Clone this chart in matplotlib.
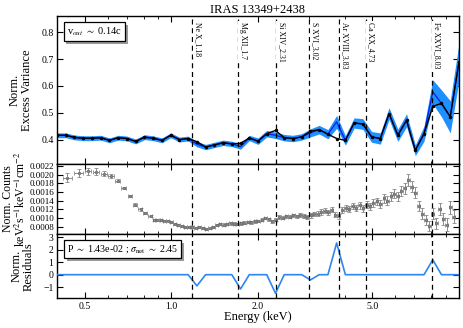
import numpy as np
import matplotlib
matplotlib.use('Agg')
import matplotlib.pyplot as plt
import matplotlib.transforms as mtransforms
from matplotlib.patches import Rectangle
from matplotlib.ticker import FixedLocator, FormatStrFormatter, NullFormatter, LogLocator

plt.rcParams['font.family'] = ['Liberation Serif', 'DejaVu Serif']
plt.rcParams['mathtext.fontset'] = 'stix'

title = "IRAS 13349+2438"

# ---- excess variance spectrum ----
ev_energy = [0.400, 0.429, 0.460, 0.493, 0.529, 0.568, 0.609, 0.653, 0.700, 0.751,
             0.806, 0.864, 0.927, 0.994, 1.066, 1.143, 1.226, 1.315, 1.410, 1.512,
             1.622, 1.739, 1.865, 2.000, 2.145, 2.301, 2.467, 2.646, 2.838, 3.044,
             3.264, 3.501, 3.754, 4.026, 4.318, 4.631, 4.967, 5.326, 5.713, 6.127,
             6.571, 7.047, 7.557, 8.105, 8.692, 9.322, 10.0]
ev_data = [0.416, 0.416, 0.408, 0.405, 0.405, 0.407, 0.397, 0.407, 0.404, 0.393,
           0.409, 0.405, 0.397, 0.416, 0.400, 0.404, 0.383, 0.372, 0.380, 0.388,
           0.384, 0.374, 0.406, 0.394, 0.422, 0.416, 0.407, 0.404, 0.410, 0.425,
           0.437, 0.420, 0.466, 0.397, 0.462, 0.458, 0.410, 0.404, 0.497, 0.416,
           0.472, 0.360, 0.422, 0.578, 0.535, 0.485, 0.690]
ev_err = [0.009, 0.009, 0.009, 0.009, 0.009, 0.009, 0.009, 0.009, 0.009, 0.009,
          0.009, 0.009, 0.009, 0.009, 0.009, 0.009, 0.010, 0.010, 0.010, 0.010,
          0.010, 0.010, 0.010, 0.012, 0.012, 0.012, 0.012, 0.012, 0.012, 0.015,
          0.016, 0.017, 0.024, 0.018, 0.019, 0.020, 0.020, 0.021, 0.022, 0.023,
          0.024, 0.020, 0.028, 0.045, 0.050, 0.060, 0.070]
ev_model = [0.416, 0.416, 0.408, 0.405, 0.405, 0.407, 0.397, 0.407, 0.404, 0.393,
            0.409, 0.405, 0.397, 0.416, 0.400, 0.404, 0.392, 0.372, 0.380, 0.388,
            0.384, 0.386, 0.406, 0.394, 0.422, 0.434, 0.407, 0.404, 0.410, 0.431,
            0.437, 0.420, 0.404, 0.397, 0.462, 0.458, 0.410, 0.404, 0.497, 0.416,
            0.472, 0.360, 0.422, 0.524, 0.535, 0.485, 0.690]
residuals = [0, 0, 0, 0, 0, 0, 0, 0, 0, 0,
             0, 0, 0, 0, 0, 0, -0.9, 0, 0, 0,
             0, -1.15, 0, 0, 0, -1.5, 0, 0, 0, -0.42,
             0, 0, 2.55, 0, 0, 0, 0, 0, 0, 0,
             0, 0, 0, 1.2, 0, 0, 0]

# ---- count spectrum ----
spec_energy = [0.435, 0.477, 0.514, 0.546, 0.583, 0.618, 0.650, 0.684, 0.718, 0.746,
               0.781, 0.810, 0.846,
               0.869, 0.894, 0.919, 0.945, 0.971, 0.999, 1.027, 1.056, 1.086, 1.117,
               1.148, 1.181, 1.214, 1.249, 1.284, 1.320, 1.358, 1.396, 1.436, 1.476,
               1.518, 1.561, 1.605, 1.651, 1.697, 1.745, 1.795, 1.846, 1.898, 1.952,
               2.007, 2.064, 2.122, 2.182, 2.244, 2.308, 2.373, 2.440, 2.509, 2.580,
               2.653, 2.728, 2.806, 2.885, 2.967, 3.051, 3.137, 3.226, 3.317, 3.411,
               3.508, 3.607, 3.709, 3.814, 3.922, 4.033, 4.147, 4.265, 4.385, 4.509,
               4.637, 4.768, 4.903, 5.042, 5.185, 5.331, 5.482, 5.637, 5.797, 5.961,
               6.130, 6.303, 6.481, 6.665, 6.853, 7.047, 7.247, 7.452, 7.663, 7.880,
               8.103, 8.332, 8.568, 8.810, 9.060, 9.316, 9.580]
spec_counts = [0.00193, 0.00204, 0.00208, 0.00207, 0.00202, 0.00196, 0.00186, 0.00169, 0.00151, 0.00131,
               0.00120, 0.00112, 0.00104,
               0.00096, 0.00095, 0.00095, 0.00094, 0.00094, 0.00091, 0.00087, 0.00084, 0.00082, 0.00080,
               0.00079, 0.00080, 0.00078, 0.00079, 0.00077, 0.00075, 0.00076, 0.00080, 0.00084, 0.00086,
               0.00085, 0.00086, 0.00088, 0.00087, 0.00086, 0.00088, 0.00089, 0.00091, 0.00090, 0.00092,
               0.00093, 0.00096, 0.00100, 0.00097, 0.00092, 0.00096, 0.00102, 0.00101, 0.00104, 0.00103,
               0.00106, 0.00104, 0.00107, 0.00105, 0.00102, 0.00106, 0.00109, 0.00110, 0.00114, 0.00117,
               0.00113, 0.00119, 0.00108, 0.00104, 0.00118, 0.00124, 0.00121, 0.00127, 0.00124, 0.00129,
               0.00122, 0.00131, 0.00127, 0.00134, 0.00138, 0.00132, 0.00145, 0.00140, 0.00150, 0.00156,
               0.00150, 0.00162, 0.00168, 0.00188, 0.00172, 0.00158, 0.00128, 0.00110, 0.00095, 0.00082,
               0.00110, 0.00088, 0.00120, 0.00098, 0.00085, 0.00125, 0.00103]
spec_err = [0.00010, 0.00009, 0.00008, 0.00007, 0.00006, 0.00005, 0.00004, 0.00003, 0.00003, 0.00003,
            0.00003, 0.00002, 0.00002,
            0.00002, 0.00002, 0.00002, 0.00002, 0.00002, 0.00002, 0.00002, 0.00002, 0.00002, 0.00002,
            0.00002, 0.00002, 0.00002, 0.00002, 0.00002, 0.00002, 0.00002, 0.00002, 0.00003, 0.00003,
            0.00003, 0.00003, 0.00003, 0.00003, 0.00003, 0.00003, 0.00003, 0.00003, 0.00003, 0.00003,
            0.00003, 0.00003, 0.00003, 0.00003, 0.00004, 0.00004, 0.00004, 0.00004, 0.00004, 0.00004,
            0.00004, 0.00004, 0.00005, 0.00005, 0.00005, 0.00005, 0.00005, 0.00005, 0.00006, 0.00006,
            0.00006, 0.00006, 0.00006, 0.00006, 0.00007, 0.00007, 0.00007, 0.00007, 0.00007, 0.00008,
            0.00008, 0.00008, 0.00008, 0.00009, 0.00009, 0.00009, 0.00010, 0.00010, 0.00010, 0.00011,
            0.00011, 0.00011, 0.00012, 0.00014, 0.00013, 0.00013, 0.00012, 0.00012, 0.00012, 0.00012,
            0.00013, 0.00013, 0.00014, 0.00014, 0.00014, 0.00015, 0.00015]

# ---- lines ----
line_names = ["Ne X", "Mg XII", "Si XIV", "S XVI", "Ar XVIII", "Ca XX", "Fe XXVI"]
line_energies = [1.18, 1.7, 2.31, 3.02, 3.83, 4.73, 8.03]
line_labels = ["1.18", "1.7", "2.31", "3.02", "3.83", "4.73", "8.03"]

vout_text = r"v$_{out}$ $\sim$ 0.14c"
stat_text = r"P $\sim$ 1.43e-02 ; $\sigma_{\rm net}$ $\sim$ 2.45"

xlim = (0.4, 10.0)
xticks = [0.5, 1.0, 2.0, 5.0]

# ---------------- figure ----------------
fig = plt.figure(figsize=(4.63, 3.28), dpi=100)
L, W = 57 / 463, (459 - 57) / 463
def rect(top_px, bot_px):
    return [L, 1 - bot_px / 328, W, (bot_px - top_px) / 328]

ax1 = fig.add_axes(rect(16, 163.7))
ax2 = fig.add_axes(rect(163.7, 234.3), sharex=ax1)
ax3 = fig.add_axes(rect(234.3, 298.3), sharex=ax1)

e = np.array(ev_energy)
d = np.array(ev_data)
er = np.array(ev_err)
ax1.fill_between(e, d - er, d + er, color='#1e90ff', lw=0, zorder=2)
ax1.plot(e, d, color='#0a1ee8', lw=0.9, zorder=3)
ax1.plot(e, ev_model, color='black', lw=1.0, marker='o', ms=1.5, zorder=4)
ax1.set_ylim(0.31, 0.861)
ax1.yaxis.set_major_locator(FixedLocator([0.4, 0.5, 0.6, 0.7, 0.8]))
ax1.set_ylabel("Norm.\nExcess Variance", fontsize=9, linespacing=1.0, labelpad=6)

se = np.array(spec_energy)
edges = np.sqrt(se[1:] * se[:-1])
lo = np.concatenate([[se[0] - (edges[0] - se[0])], edges])
hi = np.concatenate([edges, [se[-1] + (se[-1] - edges[-1])]])
xerr = np.vstack([se - lo, hi - se]) * 0.8
ax2.errorbar(se, spec_counts, yerr=spec_err, xerr=xerr, fmt='s', ms=2.0,
             mfc='none', mec='#6e6e6e', mew=0.6, ecolor='#8a8a8a', elinewidth=0.7,
             capsize=1.2, capthick=0.6, zorder=3)
ax2.set_ylim(0.000625, 0.00225)
ax2.yaxis.set_major_locator(FixedLocator([0.0008, 0.0010, 0.0012, 0.0014, 0.0016,
                                          0.0018, 0.0020, 0.0022]))
ax2.yaxis.set_major_formatter(FormatStrFormatter('%.4f'))
ax2.set_ylabel("Norm. Counts\nkeV$^2$s$^{-1}$keV$^{-1}$cm$^{-2}$", fontsize=8.5,
               linespacing=0.95, labelpad=1)

ax3.plot(e, residuals, color='#2f86f0', lw=1.2, zorder=3)
ax3.set_ylim(-1.9, 3.25)
ax3.yaxis.set_major_locator(FixedLocator([-1, 0, 1, 2, 3]))
ax3.set_ylabel("Norm.\nResiduals", fontsize=9, linespacing=1.0, labelpad=6)
ax3.set_xlabel("Energy (keV)", fontsize=9, labelpad=0)

for ax in (ax1, ax2, ax3):
    ax.set_xscale('log')
    ax.set_xlim(*xlim)
    for le in line_energies:
        ax.axvline(le, color='black', ls=(0, (4, 3)), lw=0.9, zorder=5)
    ax.tick_params(which='both', direction='in', top=True, right=True,
                   labelsize=7, pad=2.5)
    ax.tick_params(which='major', length=4, width=0.8)
    ax.tick_params(which='minor', length=2, width=0.6)
    for s in ax.spines.values():
        s.set_linewidth(1.0)
ax2.tick_params(axis='y', labelsize=6.5, pad=2)

ax3.xaxis.set_major_locator(FixedLocator(xticks))
ax3.xaxis.set_major_formatter(FormatStrFormatter('%.1f'))
ax3.xaxis.set_minor_locator(LogLocator(base=10, subs=np.arange(2, 10) * 0.1 * 10, numticks=20))
ax3.xaxis.set_minor_formatter(NullFormatter())
plt.setp(ax1.get_xticklabels(), visible=False)
plt.setp(ax2.get_xticklabels(), visible=False)

ax1.set_title(title, fontsize=9, pad=2.5)

# line labels
for name, le, lab in zip(line_names, line_energies, line_labels):
    tr = mtransforms.blended_transform_factory(ax1.transData, ax1.transAxes)
    tr = tr + mtransforms.ScaledTranslation(1.0 / 72, 0, fig.dpi_scale_trans)
    ax1.text(le, 0.962, f"{name}_{lab}", transform=tr, rotation=270,
             ha='left', va='top', fontsize=5.6, zorder=6,
             bbox=dict(boxstyle='square,pad=0.12', fc='white', ec='none'))

boxes = []
def boxed(ax, x, y, s, fs):
    t = ax.text(x, y, s, transform=ax.transAxes, ha='left', va='top', fontsize=fs,
                zorder=8, bbox=dict(boxstyle='square,pad=0.3', fc='white', ec='black', lw=0.9))
    boxes.append((ax, t))

boxed(ax1, 0.025, 0.935, vout_text, 7.5)
boxed(ax3, 0.025, 0.86, stat_text, 7.2)

fig.canvas.draw()
for ax, t in boxes:
    bb = t.get_bbox_patch().get_window_extent()
    sh = Rectangle((bb.x0 + 2.5, bb.y0 - 2.5), bb.width, bb.height,
                   transform=mtransforms.IdentityTransform(), fc='#9a9a9a',
                   ec='none', zorder=7, clip_on=False)
    ax.add_patch(sh)

fig.savefig('out.png', dpi=100)
